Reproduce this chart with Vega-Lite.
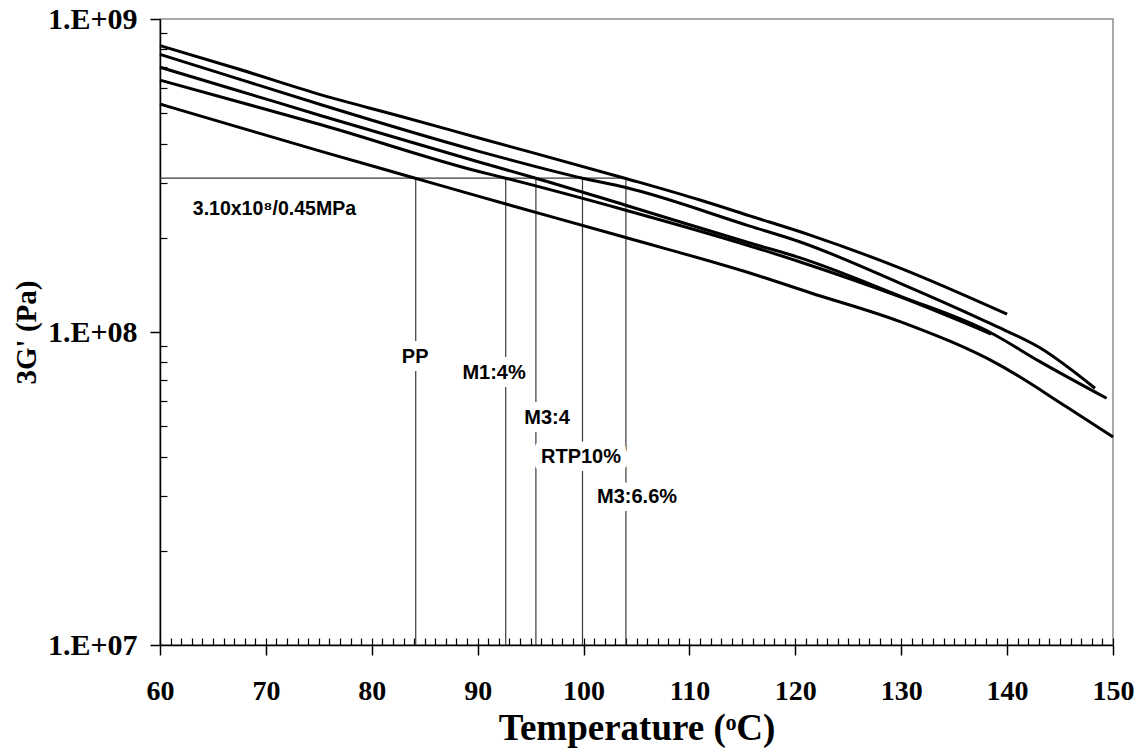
{
  "$schema": "https://vega.github.io/schema/vega-lite/v6.json",
  "width": 953,
  "height": 626,
  "autosize": {"type": "none"},
  "padding": {"left": 160, "top": 19, "right": 30, "bottom": 108},
  "background": "white",
  "view": {"stroke": "#8c8c8c", "strokeWidth": 1.5},
  "config": {
    "axis": {
      "grid": false,
      "labelFont": "Liberation Serif",
      "labelFontWeight": "bold",
      "labelColor": "black",
      "titleFont": "Liberation Serif",
      "titleFontWeight": "bold",
      "titleColor": "black",
      "domainColor": "black",
      "tickColor": "black",
      "labelFlush": false,
      "labelOverlap": false
    }
  },
  "datasets": {
    "curves": [
      {"s": "M3:6.6%", "T": 60, "G": 822000000},
      {"s": "M3:6.6%", "T": 67.4, "G": 692000000},
      {"s": "M3:6.6%", "T": 75.3, "G": 571000000},
      {"s": "M3:6.6%", "T": 82.7, "G": 489000000},
      {"s": "M3:6.6%", "T": 90.2, "G": 416000000},
      {"s": "M3:6.6%", "T": 103.9, "G": 310000000},
      {"s": "M3:6.6%", "T": 111, "G": 264000000},
      {"s": "M3:6.6%", "T": 115.7, "G": 235000000},
      {"s": "M3:6.6%", "T": 121.4, "G": 204000000},
      {"s": "M3:6.6%", "T": 129.9, "G": 160000000},
      {"s": "M3:6.6%", "T": 140, "G": 114000000},
      {"s": "RTP10%", "T": 60, "G": 771000000},
      {"s": "RTP10%", "T": 67.4, "G": 644000000},
      {"s": "RTP10%", "T": 75.3, "G": 531000000},
      {"s": "RTP10%", "T": 90.2, "G": 377000000},
      {"s": "RTP10%", "T": 99.9, "G": 310000000},
      {"s": "RTP10%", "T": 103.9, "G": 290000000},
      {"s": "RTP10%", "T": 115.7, "G": 218000000},
      {"s": "RTP10%", "T": 120.4, "G": 194300000},
      {"s": "RTP10%", "T": 129.9, "G": 143100000},
      {"s": "RTP10%", "T": 138.5, "G": 106100000},
      {"s": "RTP10%", "T": 143.1, "G": 89000000},
      {"s": "RTP10%", "T": 148.3, "G": 66100000},
      {"s": "M3:4", "T": 60, "G": 701000000},
      {"s": "M3:4", "T": 67.4, "G": 590000000},
      {"s": "M3:4", "T": 75.3, "G": 490000000},
      {"s": "M3:4", "T": 90.2, "G": 348500000},
      {"s": "M3:4", "T": 95.5, "G": 310000000},
      {"s": "M3:4", "T": 103.9, "G": 254600000},
      {"s": "M3:4", "T": 115.7, "G": 192400000},
      {"s": "M3:4", "T": 120.4, "G": 172800000},
      {"s": "M3:4", "T": 129.9, "G": 130300000},
      {"s": "M3:4", "T": 138.5, "G": 99300000},
      {"s": "M3:4", "T": 143.1, "G": 80400000},
      {"s": "M3:4", "T": 149.4, "G": 61400000},
      {"s": "M1:4%", "T": 60, "G": 638000000},
      {"s": "M1:4%", "T": 67.4, "G": 544000000},
      {"s": "M1:4%", "T": 75.3, "G": 458500000},
      {"s": "M1:4%", "T": 90.2, "G": 325000000},
      {"s": "M1:4%", "T": 92.65, "G": 310000000},
      {"s": "M1:4%", "T": 103.9, "G": 245400000},
      {"s": "M1:4%", "T": 115.7, "G": 188300000},
      {"s": "M1:4%", "T": 120.4, "G": 167700000},
      {"s": "M1:4%", "T": 129.9, "G": 129400000},
      {"s": "M1:4%", "T": 138.5, "G": 98500000},
      {"s": "PP", "T": 60, "G": 535000000},
      {"s": "PP", "T": 67.4, "G": 451500000},
      {"s": "PP", "T": 75.3, "G": 377000000},
      {"s": "PP", "T": 84.1, "G": 310000000},
      {"s": "PP", "T": 90.2, "G": 270600000},
      {"s": "PP", "T": 103.9, "G": 200700000},
      {"s": "PP", "T": 115.7, "G": 154300000},
      {"s": "PP", "T": 121.4, "G": 133500000},
      {"s": "PP", "T": 129.9, "G": 107900000},
      {"s": "PP", "T": 139.3, "G": 78400000},
      {"s": "PP", "T": 145.6, "G": 57700000},
      {"s": "PP", "T": 150, "G": 46200000}
    ],
    "vlines": [
      {"T": 84.15, "lo": 10000000, "hi": 310000000},
      {"T": 92.65, "lo": 10000000, "hi": 310000000},
      {"T": 95.5, "lo": 10000000, "hi": 310000000},
      {"T": 99.9, "lo": 10000000, "hi": 310000000},
      {"T": 104.0, "lo": 10000000, "hi": 310000000}
    ],
    "hline": [
      {"T0": 60, "T1": 104.0, "G": 310000000}
    ],
    "labels": [
      {"text": "PP", "T": 84.1, "G": 83200000},
      {"text": "M1:4%", "T": 91.55, "G": 73900000},
      {"text": "M3:4", "T": 96.55, "G": 53100000},
      {"text": "RTP10%", "T": 99.76, "G": 39900000},
      {"text": "M3:6.6%", "T": 105.05, "G": 29700000}
    ],
    "note": [
      {"text": "3.10x10⁸/0.45MPa", "T": 63.1, "G": 247000000}
    ]
  },
  "resolve": {"axis": {"x": "independent", "y": "independent"}},
  "layer": [
    {
      "data": {"name": "vlines"},
      "mark": {"type": "rule", "color": "#3a3a3a", "strokeWidth": 1.2},
      "encoding": {
        "x": {
          "field": "T", "type": "quantitative",
          "scale": {"domain": [60, 150], "nice": false, "zero": false},
          "axis": {
            "orient": "bottom",
            "values": [60,61,62,63,64,65,66,67,68,69,70,71,72,73,74,75,76,77,78,79,80,81,82,83,84,85,86,87,88,89,90,91,92,93,94,95,96,97,98,99,100,101,102,103,104,105,106,107,108,109,110,111,112,113,114,115,116,117,118,119,120,121,122,123,124,125,126,127,128,129,130,131,132,133,134,135,136,137,138,139,140,141,142,143,144,145,146,147,148,149,150],
            "tickSize": -7, "tickWidth": 1.2, "labels": false, "domain": false, "title": null
          }
        },
        "y": {
          "field": "lo", "type": "quantitative",
          "scale": {"type": "log", "domain": [10000000, 1000000000], "nice": false},
          "axis": {
            "orient": "left",
            "values": [20000000,30000000,40000000,50000000,60000000,70000000,80000000,90000000,200000000,300000000,400000000,500000000,600000000,700000000,800000000,900000000],
            "tickSize": -7, "tickWidth": 1.2, "labels": false, "domain": false, "title": null
          }
        },
        "y2": {"field": "hi"}
      }
    },
    {
      "data": {"name": "hline"},
      "mark": {"type": "rule", "color": "#3a3a3a", "strokeWidth": 1.2},
      "encoding": {
        "x": {"field": "T0", "type": "quantitative", "scale": {"domain": [60, 150], "nice": false, "zero": false}, "axis": null},
        "x2": {"field": "T1"},
        "y": {"field": "G", "type": "quantitative", "scale": {"type": "log", "domain": [10000000, 1000000000], "nice": false}, "axis": null}
      }
    },
    {
      "data": {"name": "curves"},
      "mark": {"type": "line", "color": "black", "strokeWidth": 3, "interpolate": "monotone"},
      "encoding": {
        "x": {
          "field": "T", "type": "quantitative",
          "scale": {"domain": [60, 150], "nice": false, "zero": false},
          "axis": {
            "orient": "bottom",
            "values": [60,70,80,90,100,110,120,130,140,150],
            "tickSize": 10, "tickWidth": 1.5, "domainWidth": 1.5,
            "labelFontSize": 28, "labelPadding": 22,
            "title": "Temperature (ᵒC)", "titleFontSize": 37, "titlePadding": 5
          }
        },
        "y": {
          "field": "G", "type": "quantitative",
          "scale": {"type": "log", "domain": [10000000, 1000000000], "nice": false},
          "axis": {
            "orient": "left",
            "values": [10000000, 100000000, 1000000000],
            "labelExpr": "datum.value >= 999999999 ? '1.E+09' : datum.value >= 99999999 ? '1.E+08' : '1.E+07'",
            "tickSize": 10, "tickWidth": 1.5, "domainWidth": 1.5,
            "labelFontSize": 30, "labelPadding": 13,
            "title": "3G' (Pa)", "titleFontSize": 29, "titlePadding": 6
          }
        },
        "detail": {"field": "s", "type": "nominal"}
      }
    },
    {
      "data": {"name": "labels"},
      "mark": {"type": "text", "font": "Liberation Sans", "fontWeight": "bold", "fontSize": 20, "fill": "white", "stroke": "white", "strokeWidth": 16, "strokeJoin": "round", "align": "center", "baseline": "middle"},
      "encoding": {
        "x": {"field": "T", "type": "quantitative", "scale": {"domain": [60, 150], "nice": false, "zero": false}, "axis": null},
        "y": {"field": "G", "type": "quantitative", "scale": {"type": "log", "domain": [10000000, 1000000000], "nice": false}, "axis": null},
        "text": {"field": "text"}
      }
    },
    {
      "data": {"name": "labels"},
      "mark": {"type": "text", "font": "Liberation Sans", "fontWeight": "bold", "fontSize": 20, "color": "black", "align": "center", "baseline": "middle"},
      "encoding": {
        "x": {"field": "T", "type": "quantitative", "scale": {"domain": [60, 150], "nice": false, "zero": false}, "axis": null},
        "y": {"field": "G", "type": "quantitative", "scale": {"type": "log", "domain": [10000000, 1000000000], "nice": false}, "axis": null},
        "text": {"field": "text"}
      }
    },
    {
      "data": {"name": "note"},
      "mark": {"type": "text", "font": "Liberation Sans", "fontWeight": "bold", "fontSize": 19.5, "color": "black", "align": "left", "baseline": "middle"},
      "encoding": {
        "x": {"field": "T", "type": "quantitative", "scale": {"domain": [60, 150], "nice": false, "zero": false}, "axis": null},
        "y": {"field": "G", "type": "quantitative", "scale": {"type": "log", "domain": [10000000, 1000000000], "nice": false}, "axis": null},
        "text": {"field": "text"}
      }
    }
  ]
}
